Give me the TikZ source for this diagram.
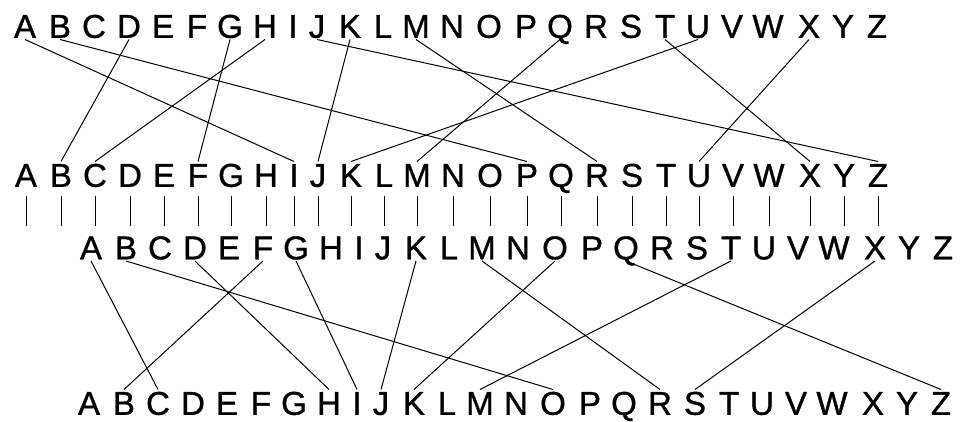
\documentclass[tikz,border=0pt]{standalone}
\usepackage{fontspec}
\setmainfont[FakeBold=1]{Liberation Sans}
\usepackage{tikz}
\usetikzlibrary{calc}
\tikzset{
  glyph/.style = {inner sep=1.5pt, text height=23.6pt, text depth=0pt,
                  font=\fontsize{33}{36}\selectfont},
  wire/.style  = {draw=black, line width=1pt},
  tick/.style  = {draw=black, line width=1pt},
}

\begin{document}
\begin{tikzpicture}[x=1pt, y=-1pt]
  \useasboundingbox[fill=white] (0,0) rectangle (960,422);

  % four rows of the alphabet
  \foreach \l/\x in {A/25,B/60,C/94,D/129,E/163,F/197,G/230,H/265,I/293,J/317,
                     K/350,L/383,M/416,N/452,O/489,P/526,Q/560,R/596,S/631,
                     T/665,U/698,V/732,W/768,X/809,Y/843,Z/877} {
    \node[glyph] (t\l) at (\x,26)      {\l};
    \node[glyph] (u\l) at (\x+1,175)   {\l};
    \node[glyph] (l\l) at (\x+66,247.5) {\l};
    \node[glyph] (b\l) at (\x+64,403)  {\l};
  }

  % upper wiring
  \foreach \s/\e in {A/I,B/P,D/B,G/F,H/C,J/Z,K/J,M/R,Q/M,T/X,U/K,X/U}
    \draw[wire] (t\s.south) -- (u\e.north);

  % ticks under the second row
  \foreach \l in {A,...,Z}
    \draw[tick] ([yshift=-7.5pt]u\l.south) -- ++(0,30);

  % lower wiring
  \foreach \s/\e in {A/C,B/O,D/H,F/B,G/I,K/J,M/R,O/K,Q/Z,T/M,X/S}
    \draw[wire] (l\s.south) -- (b\e.north);
\end{tikzpicture}
\end{document}
